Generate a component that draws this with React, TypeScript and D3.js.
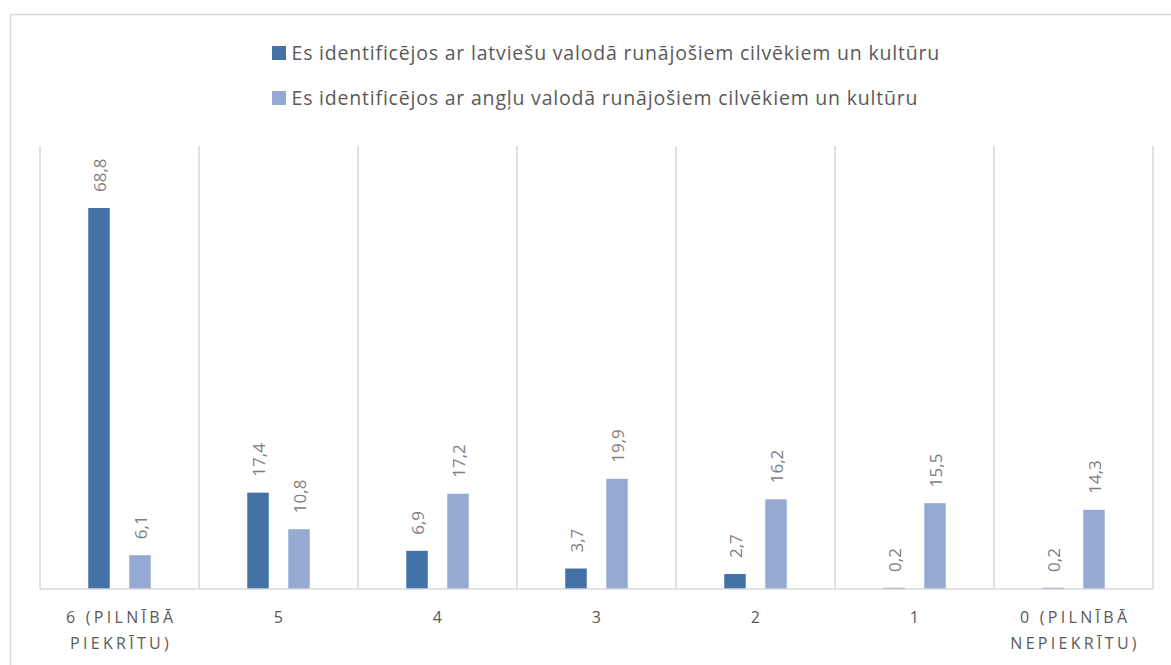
import React from "react";
import * as d3 from "d3";

const categories = ["6 (PILNĪBĀ PIEKRĪTU)", "5", "4", "3", "2", "1", "0 (PILNĪBĀ NEPIEKRĪTU)"];
const seriesNames = [
  "Es identificējos ar latviešu valodā runājošiem cilvēkiem un kultūru",
  "Es identificējos ar angļu valodā runājošiem cilvēkiem un kultūru",
];
const latvian = [68.8, 17.4, 6.9, 3.7, 2.7, 0.2, 0.2];
const english = [6.1, 10.8, 17.2, 19.9, 16.2, 15.5, 14.3];
const colors = ["#4471A6", "#95AAD2"];

const W = 1171;
const H = 665;
const plot = { left: 40, right: 1153, top: 146, bottom: 589 };

function splitLabel(s: string): string[] {
  if (s.length <= 10) return [s];
  const i = s.lastIndexOf(" ");
  return [s.slice(0, i), s.slice(i + 1)];
}

export default function App() {
  const x = d3.scaleBand<string>().domain(categories).range([plot.left, plot.right]).padding(0);
  const y = d3.scaleLinear().domain([0, 80]).range([plot.bottom, plot.top]);
  const bw = 21.5;
  const offs = [-20.5, 20.5];
  const series = [latvian, english];
  const font = "'Open Sans', 'Liberation Sans', sans-serif";

  return (
    <svg width={W} height={H} style={{ position: "absolute", left: 0, top: 0, background: "#fff" }}>
      <rect x={10.5} y={14.5} width={W + 10} height={H + 10} fill="#fff" stroke="#d9d9d9" strokeWidth={1.5} />
      {/* legend */}
      {seriesNames.map((n, i) => (
        <g key={n} transform={`translate(272, ${46 + i * 45})`}>
          <rect x={0} y={0} width={14} height={14} fill={colors[i]} />
          <text x={19.5} y={13.5} fontFamily={font} fontSize={19.5} letterSpacing={0.8} fill="#595959">
            {n}
          </text>
        </g>
      ))}
      {/* grid lines (vertical category separators) */}
      {d3.range(categories.length + 1).map((i) => {
        const xx = plot.left + i * x.bandwidth();
        return <line key={i} x1={xx} x2={xx} y1={plot.top} y2={plot.bottom} stroke="#d9d9d9" strokeWidth={1.5} />;
      })}
      {/* bars */}
      {series.map((vals, si) =>
        vals.map((v, ci) => {
          const cx = (x(categories[ci]) as number) + x.bandwidth() / 2 + offs[si];
          const yt = y(v);
          return (
            <g key={`${si}-${ci}`}>
              <rect x={cx - bw / 2} y={yt} width={bw} height={plot.bottom - yt} fill={colors[si]} />
              <text
                transform={`translate(${cx}, ${yt - 16}) rotate(-90)`}
                textAnchor="start"
                dominantBaseline="central"
                fontFamily={font}
                fontSize={17}
                fill="#7f7f7f"
              >
                {v.toFixed(1).replace(".", ",")}
              </text>
            </g>
          );
        })
      )}
      <line x1={plot.left} x2={plot.right} y1={plot.bottom} y2={plot.bottom} stroke="#d9d9d9" strokeWidth={1.5} />
      {/* category labels */}
      {categories.map((c) => {
        const cx = (x(c) as number) + x.bandwidth() / 2;
        return (
          <text key={c} textAnchor="middle" fontFamily={font} fontSize={16} fill="#595959" letterSpacing={3.3}>
            {splitLabel(c).map((l, li) => (
              <tspan key={li} x={cx + 1.6} y={623 + li * 26}>
                {l}
              </tspan>
            ))}
          </text>
        );
      })}
    </svg>
  );
}
